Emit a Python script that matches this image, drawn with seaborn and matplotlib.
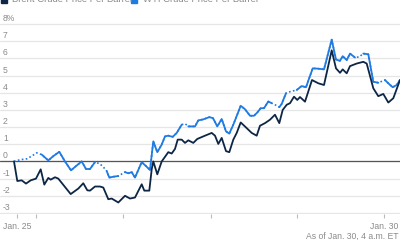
import matplotlib
matplotlib.use("Agg")
import matplotlib.pyplot as plt
import seaborn as sns
import pandas as pd
from matplotlib.patches import Rectangle

sns.set_theme(style="white")
plt.rcParams['font.family'] = ['Liberation Sans', 'DejaVu Sans']

# ---- data (time index, % change) ----
brent_t = [14, 17.3, 21.7, 26, 30.7, 36, 40.7, 44.3, 48.3, 50.7, 55, 58.3, 70.7, 78.3,
           83.3, 87.3, 90, 95, 100, 103.3, 108.3, 111.7, 118.3, 125, 130, 135, 141.7,
           144.3, 149.3, 151.7, 153.3, 157.3, 161.7, 168.3, 171.7, 175, 177.7, 181.7,
           185, 188.3, 193.3, 197.3, 205, 211.7, 215, 218.3, 221.7, 226, 229.3, 233.3,
           236.7, 240.7, 246.7, 251.7, 256.7, 260, 265, 270, 275, 279.3, 282.7, 286.7,
           290, 294, 297.3, 300, 305, 312, 318.3, 324, 331.7, 336, 340, 342.7, 346.7,
           350, 356.7, 363.3, 366.7, 373.3, 378.3, 383.3, 388.3, 393.3, 400]
brent = [0, -1.14, -1.1, -1.29, -1.1, -1.0, -0.46, -1.35, -0.96, -1.06, -0.92, -1.0,
         -1.9, -1.58, -1.27, -1.68, -1.7, -1.46, -1.46, -1.52, -2.2, -2.16, -2.39, -2.0,
         -2.16, -2.1, -1.33, -1.7, -1.7, -0.46, 0.0, -0.75, 0.0, 0.54, 0.46, 0.73, 1.27,
         1.27, 1.08, 1.23, 1.08, 1.31, 1.5, 1.66, 1.5, 1.02, 1.37, 0.6, 0.54, 1.27, 1.66,
         2.27, 1.94, 1.66, 1.5, 2.08, 2.23, 2.43, 2.72, 2.23, 3.0, 3.3, 3.39, 3.77, 3.58,
         3.75, 3.48, 4.74, 4.55, 4.45, 6.47, 5.42, 5.16, 5.36, 5.13, 5.55, 5.7, 5.8, 5.7,
         4.26, 3.8, 3.93, 3.43, 3.68, 4.74]

wti_t = [14, 20, 26.7, 31.7, 36.7, 41.7, 48.3, 53.3, 59.3, 65, 71, 76, 81.7, 86, 90, 95,
         100, 104, 106.7, 109.3, 113.3, 118.3, 125, 128.3, 131.7, 135, 141.7, 146, 150,
         153.3, 157.3, 161.7, 165, 168.3, 172.7, 176.7, 181.7, 185, 188.3, 195, 198.3,
         203.3, 209.3, 213, 217.3, 221.7, 226, 229.3, 233.3, 240.7, 245, 250, 254, 257.3,
         260.7, 264, 268.3, 271.7, 275, 279.3, 281.7, 286, 290, 296.7, 301.7, 306, 312.7,
         318.3, 324, 331.7, 336, 340, 342.7, 346.7, 350, 355, 359.3, 363.3, 368.3, 373.3,
         378.3, 385, 388.3, 392.7, 396.7, 400]
wti = [0, 0.1, 0.15, 0.31, 0.5, 0.4, 0.06, 0.31, 0.56, 0, -0.52, -0.27, 0, -0.44, -0.44,
       -0.04, -0.14, -0.37, -0.56, -0.94, -0.89, -0.85, -0.62, -0.69, -0.62, -0.94, -0.04,
       -0.27, -0.5, 1.17, 0.54, 0.98, 1.46, 1.5, 1.43, 1.66, 2.14, 2.2, 2.04, 2.04, 2.39,
       2.45, 2.58, 2.52, 2.04, 2.47, 1.75, 1.62, 2.14, 3.24, 3.04, 2.66, 2.66, 2.85, 3.1,
       3.1, 3.49, 3.39, 3.3, 3.16, 3.35, 3.97, 4.06, 4.16, 4.39, 4.32, 5.42, 5.4, 5.36,
       7.09, 5.93, 5.86, 6.13, 5.9, 6.28, 6.05, 6.09, 6.28, 6.24, 4.64, 4.58, 4.74, 4.55,
       4.32, 4.45, 4.74]
# index ranges of the WTI series drawn dotted (no trading data)
wti_dotted = [(0, 5), (15, 18), (21, 22), (36, 38), (57, 59), (61, 63), (75, 77), (80, 81)]

y_ticks = [8, 7, 6, 5, 4, 3, 2, 1, 0, -1, -2, -3]
y_labels = ['8%', '7', '6', '5', '4', '3', '2', '1', '0', '-1', '-2', '-3']
x_ticks = [17, 36, 123, 211, 297, 384]
x_labels = ['Jan. 25', '', '', '', '', 'Jan. 30']
series_names = ['Brent Crude Price Per Barrel', 'WTI Crude Price Per Barrel']

NAVY = '#0e2646'
BLUE = '#1f7be2'
GRID = '#e6e6e6'
TXT = '#8a8a8a'
FS = 6.2

fig = plt.figure(figsize=(4, 2.4), dpi=100)
ax = fig.add_axes([0, 26 / 240, 1, 191 / 240])
ax.set_xlim(0, 400)
ax.set_ylim(-3.06, 8.06)

for y in y_ticks:
    ax.axhline(y, color=GRID, lw=0.9, zorder=0)
ax.axhline(0, color='#555555', lw=0.9, zorder=1)

for y, lab in zip(y_ticks, y_labels):
    ax.annotate(lab, xy=(0, y), xycoords=('axes fraction', 'data'),
                xytext=(3, 3), textcoords='offset pixels',
                ha='left', va='baseline', fontsize=FS, color=TXT)

# Brent line
sns.lineplot(x=brent_t, y=brent, color=NAVY, lw=1.3, ax=ax, zorder=3)

# WTI: dotted full path underneath, solid segments on top
sns.lineplot(x=wti_t, y=wti, color=BLUE, lw=1.2, ax=ax, zorder=2,
             linestyle=(0, (1, 1.4)))
dotted_seg = set()
for a, b in wti_dotted:
    for i in range(a, b):
        dotted_seg.add(i)
rows = []
seg = 0
for i in range(len(wti_t) - 1):
    if i in dotted_seg:
        seg += 1
        continue
    rows.append((seg, i, wti_t[i], wti[i]))
    rows.append((seg, i + 1, wti_t[i + 1], wti[i + 1]))
df = pd.DataFrame(rows, columns=['seg', 'idx', 't', 'v']).drop_duplicates(['seg', 'idx'])
sns.lineplot(data=df, x='t', y='v', units='seg', estimator=None, color=BLUE,
             lw=1.3, ax=ax, zorder=2.5, sort=False)

ax.set_xticks(x_ticks)
ax.set_xticklabels(x_labels)
ax.set_yticks([])
ax.tick_params(axis='x', bottom=True, length=3, width=0.8, color='#bbbbbb',
               labelsize=FS, labelcolor=TXT, pad=3)
ax.set_xlabel('')
ax.set_ylabel('')
for s in ax.spines.values():
    s.set_visible(False)
ax.patch.set_alpha(0)

# clipped legend at top
fig.add_artist(Rectangle((1 / 400, 1 - 3 / 240), 6 / 400, 10 / 240,
                         transform=fig.transFigure, color=NAVY))
fig.text(12 / 400, 1 - 1.5 / 240, series_names[0], fontsize=FS + 0.6, color=TXT,
         va='baseline', ha='left')
fig.add_artist(Rectangle((131 / 400, 1 - 3 / 240), 6 / 400, 10 / 240,
                         transform=fig.transFigure, color=BLUE))
fig.text(143 / 400, 1 - 1.5 / 240, series_names[1], fontsize=FS + 0.6, color=TXT,
         va='baseline', ha='left')

fig.text(399 / 400, 1.5 / 240, 'As of Jan. 30, 4 a.m. ET', fontsize=FS, color=TXT,
         ha='right', va='baseline')

fig.savefig('out.png', dpi=100)
